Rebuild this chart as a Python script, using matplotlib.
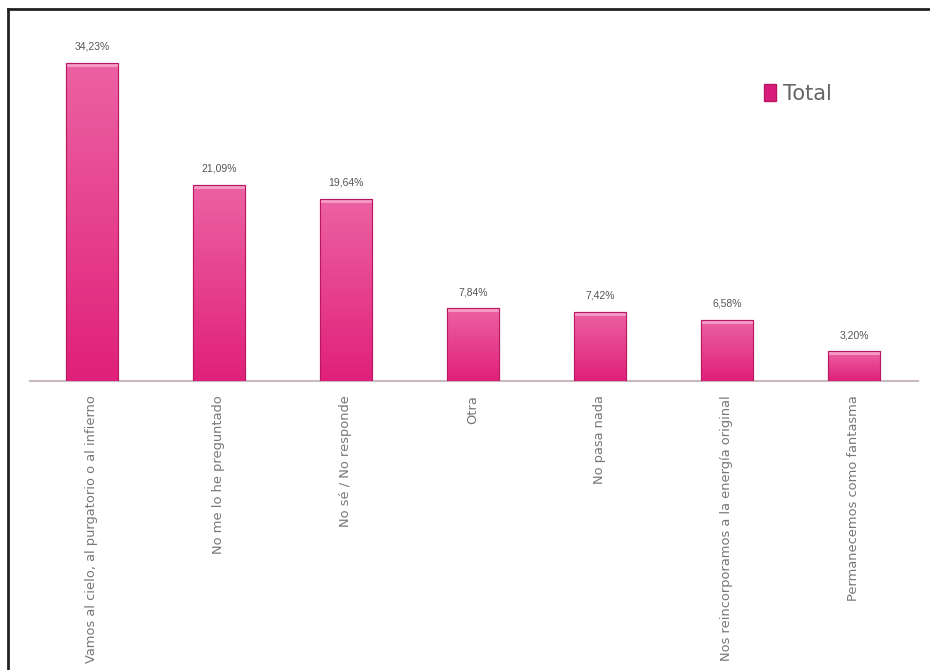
import numpy as np
import matplotlib.pyplot as plt
from matplotlib.lines import Line2D
from matplotlib.patches import Rectangle
from matplotlib.colors import LinearSegmentedColormap

categories = ['Vamos al cielo, al purgatorio o al infierno', 'No me lo he preguntado',
              'No sé / No responde', 'Otra', 'No pasa nada',
              'Nos reincorporamos a la energía original', 'Permanecemos como fantasma']
values = [34.23, 21.09, 19.64, 7.84, 7.42, 6.58, 3.20]
value_labels = ['34,23%', '21,09%', '19,64%', '7,84%', '7,42%', '6,58%', '3,20%']
series_name = 'Total'

W, H = 930, 670
fig = plt.figure(figsize=(W / 100, H / 100), dpi=100)
fig.patch.set_facecolor('white')

# axes placed in pixel terms: baseline at y=381, plot spans x 30..918
ax = fig.add_axes([30 / W, 1 - 381 / H, 888 / W, 361 / H])
ax.set_xlim(-0.488, 6.504)
ax.set_ylim(0, 38.86)
for s in ax.spines.values():
    s.set_visible(False)
ax.spines['bottom'].set_visible(True)
ax.spines['bottom'].set_color('#c9b8c0')
ax.spines['bottom'].set_linewidth(1.5)
ax.set_yticks([])
ax.tick_params(axis='x', length=0, pad=10)

x = np.arange(len(values))
width = 0.41
bars = ax.bar(x, values, width=width, color='#e6338a', edgecolor='#c21a6a', linewidth=0.8, zorder=2)

# vertical gradient inside each bar
grad = np.linspace(0, 1, 256).reshape(-1, 1)
cmap = LinearSegmentedColormap.from_list('pk', ['#e0207a', '#ec62a2'])
for b in bars:
    bx, by, bw, bh = b.get_x(), b.get_y(), b.get_width(), b.get_height()
    im = ax.imshow(grad, extent=[bx, bx + bw, by, by + bh], origin='lower',
                   cmap=cmap, aspect='auto', zorder=3)
    im.set_clip_path(b)
    # lighter cap at the top
    ax.add_patch(Rectangle((bx, by + bh - 0.45), bw, 0.45, facecolor='#f59ac4',
                           edgecolor='none', zorder=4))
    ax.add_patch(Rectangle((bx, by), bw, bh, fill=False, edgecolor='#b8185f',
                           linewidth=0.8, zorder=5))

for xi, v, lab in zip(x, values, value_labels):
    ax.text(xi, v + 1.2, lab, ha='center', va='bottom', fontsize=7.5,
            color='#555555', family='Liberation Sans')

ax.set_xticks(x)
ax.set_xticklabels(categories, rotation=90, fontsize=9.4, color='#777777', va='top')

# legend
leg = ax.legend(handles=[Rectangle((0, 0), 1, 1, facecolor='#d81b7a', edgecolor='#b8185f')],
                labels=[series_name], loc='upper left', bbox_to_anchor=(715 / 888, 1 - 45 / 361),
                frameon=False, handlelength=0.6, handleheight=0.9, handletextpad=0.3,
                labelcolor='#666666', prop={'family': 'DejaVu Sans Condensed', 'size': 15})

# frame lines (top and left)
fig.add_artist(Line2D([8 / W, 1], [1 - 9 / H, 1 - 9 / H], transform=fig.transFigure, color='#222222', lw=2))
fig.add_artist(Line2D([8 / W, 8 / W], [0, 1 - 9 / H], transform=fig.transFigure, color='#222222', lw=2))

fig.savefig('out.png', dpi=100, facecolor='white')
